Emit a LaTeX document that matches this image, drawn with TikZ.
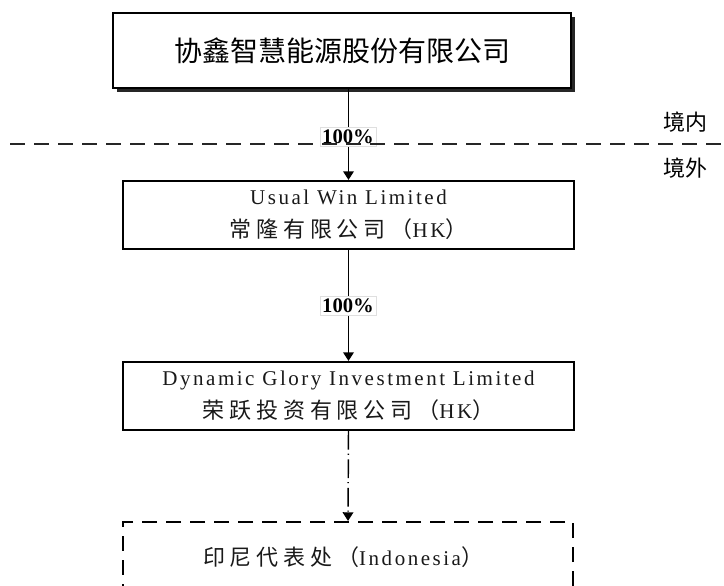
\documentclass[tikz,border=0pt]{standalone}
\usepackage{fontspec}
\setmainfont{Liberation Serif}
\newfontfamily\cjk{Noto Sans CJK SC}
\newfontfamily\cjksp[LetterSpace=22]{Noto Sans CJK SC}
\newfontfamily\latsp[LetterSpace=12]{Liberation Serif}
\newcommand\cjkbig{\fontsize{16.5pt}{24.75pt}\selectfont}
\usetikzlibrary{arrows.meta}
\begin{document}
\begin{tikzpicture}[x=0.75pt,y=-0.75pt,
  box/.style={draw=black, fill=white, line width=1.6pt, minimum width=338.25pt, minimum height=51pt, inner sep=0pt, align=center},
  topbox/.style={draw=black, fill=white, line width=1.8pt, minimum width=343.5pt, minimum height=56.25pt, inner sep=0pt},
  dbox/.style={draw=black, line width=1.6pt, dash pattern=on 11pt off 7pt, minimum width=337.5pt, minimum height=52.5pt, inner sep=0pt},
  arr/.style={draw=black, line width=1.1pt, -{Triangle[length=6.5pt,width=8pt]}},
  darr/.style={arr, dash pattern=on 14pt off 3pt on 0.8pt off 3.5pt},
  pct/.style={fill=white, draw=gray!25, line width=0.4pt, inner xsep=1.5pt, inner ysep=2pt, font=\fontsize{15.5pt}{18pt}\selectfont\bfseries},
  side/.style={font=\fontsize{16.5pt}{18pt}\selectfont\cjk, inner sep=0pt},
  txt/.style={font=\fontsize{15.75pt}{24.75pt}\selectfont, text=black!90}
]
\useasboundingbox (0,0) rectangle (724,585);
\clip (0,0) rectangle (724,585);

% top box with shadow
\fill[black!85] (117,17) rectangle (574.5,91.5);
\node[topbox] (top) at (342,50.5) {\fontsize{21pt}{24pt}\selectfont\cjk 协鑫智慧能源股份有限公司};

\node[box, txt] (usual) at (348.5,215) {{\latsp Usual Win Limited}\\{\cjksp\cjkbig 常隆有限公司（}{\latsp HK}{\cjk\cjkbig ）}};

\node[box, txt] (dyn) at (348.5,396) {{\latsp Dynamic Glory Investment Limited}\\{\cjksp\cjkbig 荣跃投资有限公司（}{\latsp HK}{\cjk\cjkbig ）}};

\node[dbox] (indo) at (348,557) {};
\node[txt, inner sep=0pt] (indotxt) at (343,557) {{\cjksp\cjkbig 印尼代表处（}{\latsp Indonesia}{\cjk\cjkbig ）}};

\draw[arr] (usual.north |- top.south) -- (usual.north);
\draw[arr] (usual.south) -- (dyn.north);
\draw[darr] (dyn.south) -- (indo.north);

\node[pct] (p1) at (348,137) {100\%};
\node[pct] (p2) at (348,306) {100\%};

\coordinate (dl) at (10,144);
\coordinate (dr) at (724,144);
\draw[black!85, line width=1.1pt, dash pattern=on 11.25pt off 6.75pt] (dl) -- (dr);

\node[side] (jn) at (685,122) {境内};
\node[side] (jw) at (685,168) {境外};
\end{tikzpicture}
\end{document}
